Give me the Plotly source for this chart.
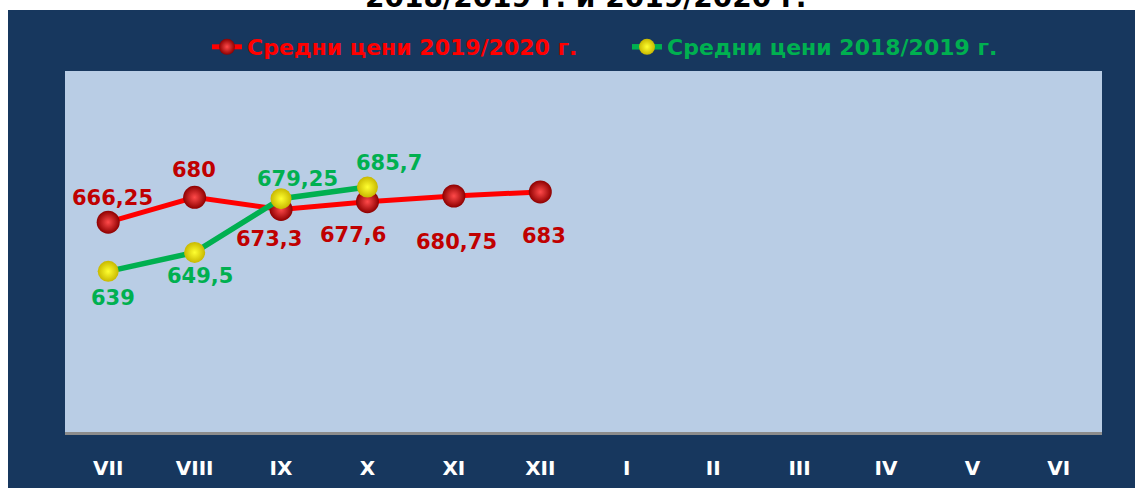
import plotly.graph_objects as go

# ---------------- data ----------------
months = ["VII", "VIII", "IX", "X", "XI", "XII", "I", "II", "III", "IV", "V", "VI"]
prices_2019_2020 = [666.25, 680, 673.3, 677.6, 680.75, 683]
prices_2018_2019 = [639, 649.5, 679.25, 685.7]
labels_2019_2020 = ["666,25", "680", "673,3", "677,6", "680,75", "683"]
labels_2018_2019 = ["639", "649,5", "679,25", "685,7"]
name_2019_2020 = "Средни цени 2019/2020 г."
name_2018_2019 = "Средни цени 2018/2019 г."
title_text = "2018/2019 г. и 2019/2020 г."

# ---------------- styling ----------------
RED = "#FF0000"
RED_LABEL = "#C00000"
GREEN = "#00B050"
NAVY = "#17375E"
PLOT_BG = "#B9CDE5"
FONT = "Verdana, DejaVu Sans, sans-serif"

# label offsets in pixels (dx, dy with dy positive = up)
red_label_offsets = [(4, 24), (-1, 27), (-12, -30), (-14, -33), (3, -46), (4, -44)]
green_label_offsets = [(5, -27), (5, -24), (16, 20), (22, 24)]

W, H = 1135, 488
L, R, T, B = 65, 33, 71, 56
pw, ph = W - L - R, H - T - B

fig = go.Figure()

fig.add_trace(go.Scatter(
    x=months[:len(prices_2019_2020)], y=prices_2019_2020,
    mode="lines+markers",
    name=f"<span style='color:{RED}'>{name_2019_2020}</span>",
    line=dict(color=RED, width=5),
    marker=dict(size=23, color="#8E0000", line=dict(width=0),
                gradient=dict(type="radial", color="#FF4A4A")),
    hoverinfo="skip",
))
fig.add_trace(go.Scatter(
    x=months[:len(prices_2018_2019)], y=prices_2018_2019,
    mode="lines+markers",
    name=f"<span style='color:{GREEN}'>{name_2018_2019}</span>",
    line=dict(color=GREEN, width=5.5),
    marker=dict(size=21, color="#C8B800", line=dict(width=0),
                gradient=dict(type="radial", color="#FFFF30")),
    hoverinfo="skip",
))

annotations = []
for m, v, t, (dx, dy) in zip(months, prices_2019_2020, labels_2019_2020, red_label_offsets):
    annotations.append(dict(x=m, y=v, xref="x", yref="y", text=t, showarrow=False,
                            xshift=dx, yshift=dy,
                            font=dict(family=FONT, size=21, color=RED_LABEL, weight="bold")))
for m, v, t, (dx, dy) in zip(months, prices_2018_2019, labels_2018_2019, green_label_offsets):
    annotations.append(dict(x=m, y=v, xref="x", yref="y", text=t, showarrow=False,
                            xshift=dx, yshift=dy,
                            font=dict(family=FONT, size=21, color=GREEN, weight="bold")))

# partially visible title at the very top
annotations.append(dict(x=(585 - L) / pw, y=1, xref="paper", yref="paper",
                        xanchor="center", yanchor="bottom", yshift=55,
                        text=title_text, showarrow=False,
                        font=dict(family=FONT, size=28, color="black", weight="bold")))

shapes = [
    dict(type="rect", xref="paper", yref="paper", layer="below",
         x0=(8 - L) / pw, x1=(W - L) / pw + 0.01, y0=-B / ph - 0.01, y1=1 + (T - 10) / ph,
         fillcolor=NAVY, line=dict(width=0)),
    dict(type="rect", xref="paper", yref="paper", layer="below",
         x0=0, x1=1, y0=0, y1=1,
         fillcolor=PLOT_BG, line=dict(width=0)),
]

fig.update_layout(
    width=W, height=H,
    margin=dict(l=L, r=R, t=T, b=B, pad=0, autoexpand=False),
    paper_bgcolor="white",
    plot_bgcolor=PLOT_BG,
    showlegend=True,
    legend=dict(orientation="h", x=(207 - L) / pw, xanchor="left",
                y=1 + (T - 47) / ph, yanchor="middle",
                bgcolor="rgba(0,0,0,0)",
                entrywidth=375, entrywidthmode="pixels",
                font=dict(family=FONT, size=22, weight="bold"),
                itemclick=False, itemdoubleclick=False),
    xaxis=dict(type="category", categoryorder="array", categoryarray=months,
               range=[-0.5, len(months) - 0.5], automargin=False,
               showgrid=False, zeroline=False,
               showline=True, linecolor="#8C8C8C", linewidth=3,
               ticks="", ticklabelstandoff=16,
               tickfont=dict(family=FONT, size=20, color="white", weight="bold"),
               fixedrange=True),
    yaxis=dict(range=[550, 750], showgrid=False, zeroline=False, automargin=False,
               showticklabels=False, showline=False, ticks="", fixedrange=True),
    annotations=annotations,
    shapes=shapes,
)

fig.write_html("out.html")
